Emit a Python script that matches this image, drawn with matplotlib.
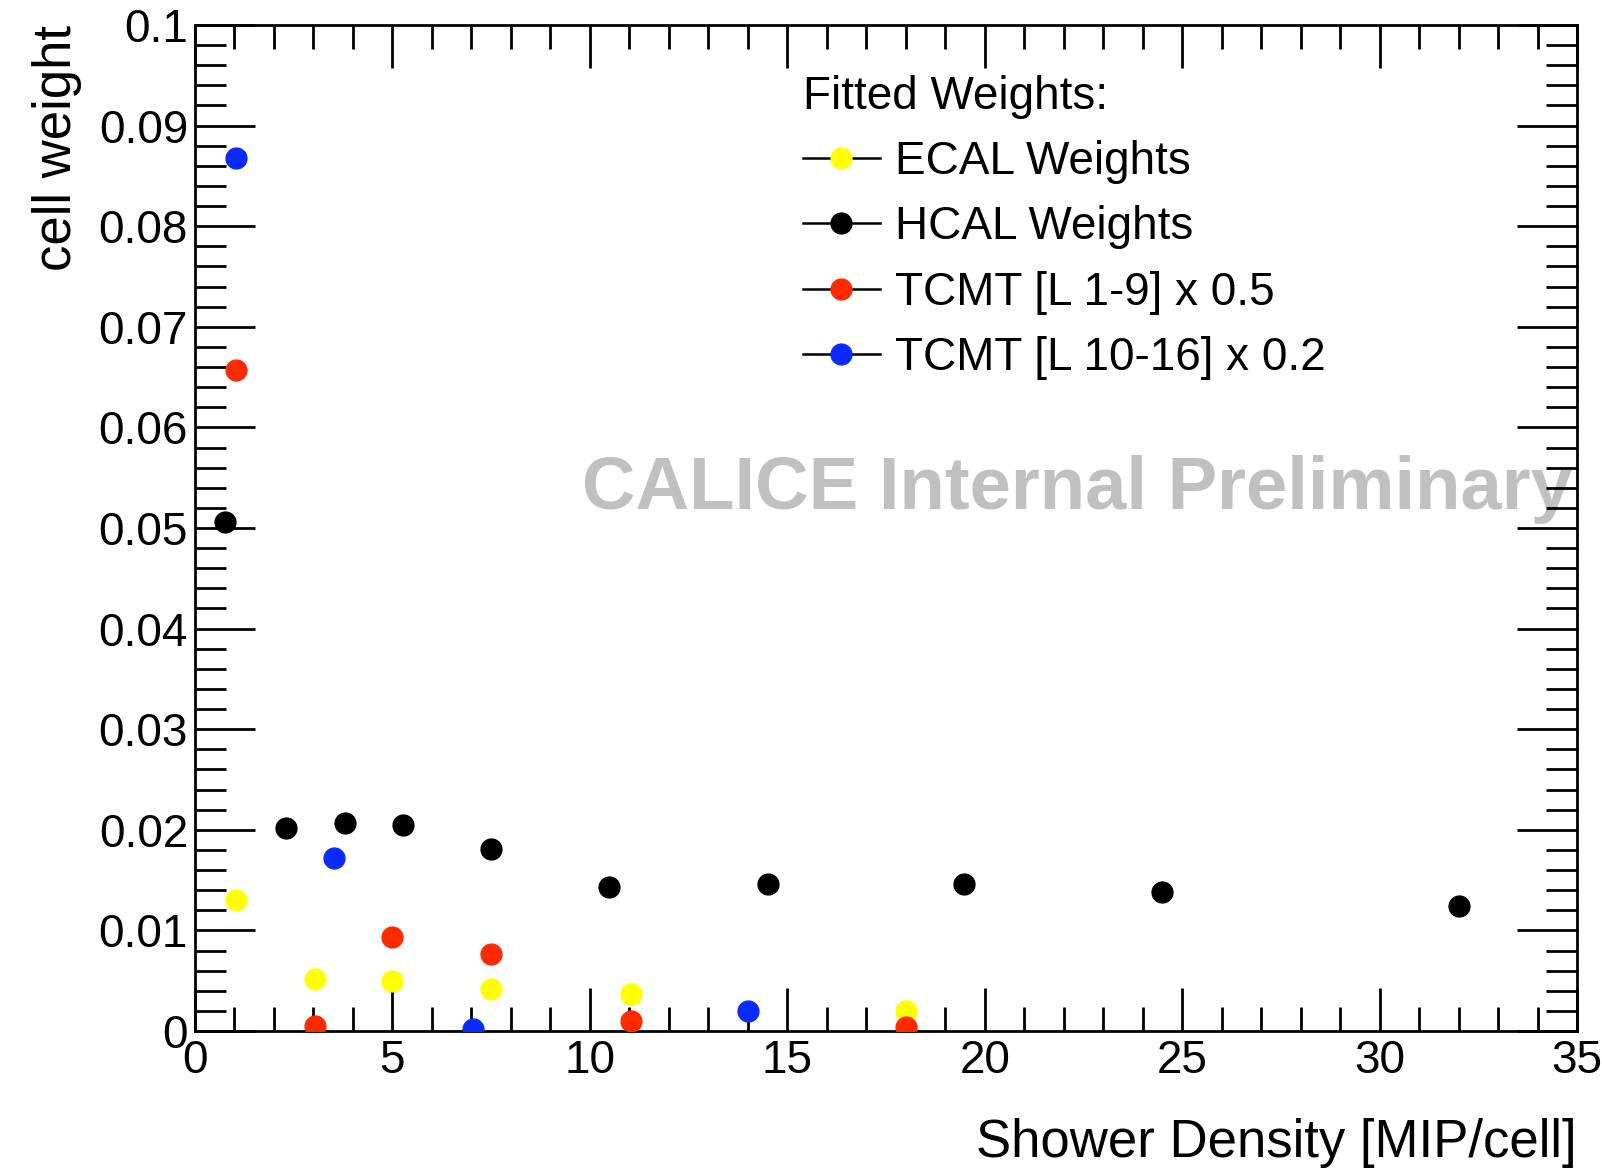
import matplotlib
matplotlib.use("Agg")
import matplotlib.pyplot as plt
from matplotlib.lines import Line2D
from matplotlib.ticker import MultipleLocator, FuncFormatter

plt.rcParams['font.family'] = ['Liberation Sans', 'DejaVu Sans']

ecal_x = [1.04, 3.05, 5.0, 7.5, 11.03, 18.0]
ecal_y = [0.0130, 0.0052, 0.0050, 0.0042, 0.0037, 0.0020]

hcal_x = [0.75, 2.3, 3.8, 5.28, 7.5, 10.48, 14.5, 19.47, 24.49, 32.0]
hcal_y = [0.0506, 0.0202, 0.0207, 0.0205, 0.0181, 0.0143, 0.0146, 0.0146, 0.0138, 0.0124]

tcmt1_x = [1.04, 3.05, 5.0, 7.5, 11.03, 18.0]
tcmt1_y = [0.0657, 0.0005, 0.0093, 0.0077, 0.0010, 0.0004]

tcmt2_x = [1.04, 3.52, 7.04, 14.0]
tcmt2_y = [0.0868, 0.0172, 0.0002, 0.0020]

series = [
    ("ECAL Weights", ecal_x, ecal_y, "#ffff00"),
    ("HCAL Weights", hcal_x, hcal_y, "#000000"),
    ("TCMT [L 1-9] x 0.5", tcmt1_x, tcmt1_y, "#ff2a00"),
    ("TCMT [L 10-16] x 0.2", tcmt2_x, tcmt2_y, "#0a2aff"),
]

fig = plt.figure(figsize=(16.02, 11.68), dpi=100)
ax = fig.add_axes([0.1217, 0.1173, 0.8627, 0.8613])

for label, xs, ys, c in series:
    ax.plot(xs, ys, linestyle='none', marker='o', markersize=15,
            markerfacecolor=c, markeredgecolor=c, zorder=3)

ax.set_xlim(0, 35)
ax.set_ylim(0, 0.1)
ax.xaxis.set_major_locator(MultipleLocator(5))
ax.xaxis.set_minor_locator(MultipleLocator(1))
ax.yaxis.set_major_locator(MultipleLocator(0.01))
ax.yaxis.set_minor_locator(MultipleLocator(0.002))


def yfmt(v, pos):
    if abs(v) < 1e-12:
        return "0"
    return ("%.2f" % v).rstrip('0')


ax.yaxis.set_major_formatter(FuncFormatter(yfmt))
ax.xaxis.set_major_formatter(FuncFormatter(lambda v, p: "%d" % round(v)))

ax.tick_params(which='both', direction='in', top=True, right=True, width=2, color='black',
               labelsize=33)
ax.tick_params(axis='y', which='major', length=43, pad=5)
ax.tick_params(axis='y', which='minor', length=22)
ax.tick_params(axis='x', which='major', length=31, pad=6)
ax.tick_params(axis='x', which='minor', length=17)
for sp in ax.spines.values():
    sp.set_linewidth(2)

ax.set_xlabel("Shower Density [MIP/cell]", fontsize=38, loc='right', labelpad=25)
ax.set_ylabel("cell weight", fontsize=38, loc='top', labelpad=12)

ax.text(0.996, 0.538, "CALICE Internal Preliminary", transform=ax.transAxes,
        ha='right', va='center', fontsize=53.5, fontweight='bold', color='#c0c0c0',
        zorder=1, clip_on=True)

handles = [Line2D([0], [0], color='black', linewidth=1.8, marker='o', markersize=15,
                  markerfacecolor=c, markeredgecolor=c) for _, _, _, c in series]
labels = [s[0] for s in series]
leg = ax.legend(handles, labels, title="Fitted Weights:", loc='upper left',
                bbox_to_anchor=(0.44, 0.95), frameon=False, fontsize=33,
                title_fontsize=33, alignment='left', borderpad=0,
                handlelength=1.67, handletextpad=0.33, labelspacing=0.46,
                borderaxespad=0)

fig.savefig("out.png", dpi=100)
